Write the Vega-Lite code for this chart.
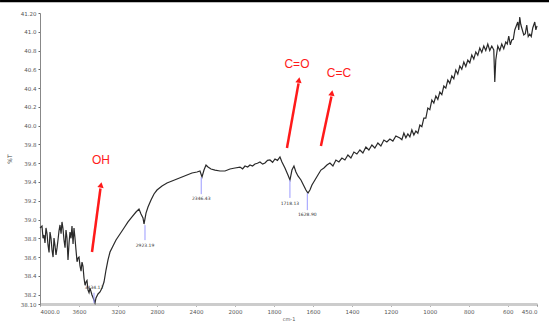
{
  "$schema": "https://vega.github.io/schema/vega-lite/v6.json",
  "width": 497,
  "height": 291,
  "autosize": "none",
  "padding": {"left": 40, "top": 13, "right": 12, "bottom": 25},
  "background": "white",
  "config": {"view": {"stroke": null}, "font": "DejaVu Sans"},
  "encoding": {
    "x": {
      "field": "wn", "type": "quantitative",
      "scale": {"domain": [4000, 2000, 450], "range": [0, 195, 497], "nice": false, "zero": false},
      "axis": {
        "values": [4000, 3600, 3200, 2800, 2400, 2000, 1800, 1600, 1400, 1200, 1000, 800, 600, 450],
        "labelExpr": "datum.value == 4000 || datum.value == 450 ? format(datum.value, '.1f') : format(datum.value, 'd')",
        "title": "cm-1", "titleFontSize": 5, "titleFontWeight": "normal", "titleColor": "#555", "titlePadding": 2,
        "labelFontSize": 5.5, "labelColor": "#555", "labelPadding": 3,
        "domainColor": "#cccccc", "domainWidth": 3, "tickColor": "#666", "tickSize": 2, "grid": false
      }
    },
    "y": {
      "field": "t", "type": "quantitative",
      "scale": {"domain": [38.1, 41.2], "nice": false, "zero": false},
      "axis": {
        "values": [38.1, 38.2, 38.4, 38.6, 38.8, 39.0, 39.2, 39.4, 39.6, 39.8, 40.0, 40.2, 40.4, 40.6, 40.8, 41.0, 41.2],
        "labelExpr": "datum.value == 38.1 || datum.value == 41.2 ? format(datum.value, '.2f') : format(datum.value, '.1f')",
        "title": "%T", "titleFontSize": 6, "titleFontWeight": "normal", "titleColor": "#444", "titlePadding": 8,
        "labelFontSize": 5.5, "labelColor": "#555", "labelPadding": 2,
        "domainColor": "#888", "domainWidth": 1, "tickColor": "#666", "tickSize": 2, "grid": false
      }
    }
  },
  "layer": [
    {
      "data": {"values": [{"wn": 4410, "t": 41.33, "wn2": 388}]},
      "mark": {"type": "rule", "color": "black", "strokeWidth": 3, "clip": false},
      "encoding": {"x2": {"field": "wn2"}}
    },
    {
      "data": {"values": [
        {"wn": 4000, "t": 38.910}, {"wn": 3979.5, "t": 38.931}, {"wn": 3969, "t": 38.80}, {"wn": 3959.0, "t": 38.835}, {"wn": 3948.7, "t": 38.75}, {"wn": 3938.5, "t": 38.910},
        {"wn": 3928, "t": 38.85}, {"wn": 3917.9, "t": 38.729}, {"wn": 3907, "t": 38.65}, {"wn": 3897.4, "t": 38.867}, {"wn": 3887, "t": 38.80}, {"wn": 3876.9, "t": 38.675}, {"wn": 3866, "t": 38.60}, {"wn": 3856.4, "t": 38.803},
        {"wn": 3846, "t": 38.72}, {"wn": 3835.9, "t": 38.622}, {"wn": 3825, "t": 38.70}, {"wn": 3815.4, "t": 38.782}, {"wn": 3805, "t": 38.88}, {"wn": 3794.9, "t": 38.942}, {"wn": 3784, "t": 38.85}, {"wn": 3774.4, "t": 38.974},
        {"wn": 3764, "t": 38.90}, {"wn": 3753.8, "t": 38.782}, {"wn": 3743, "t": 38.70}, {"wn": 3733.3, "t": 38.888}, {"wn": 3723, "t": 38.80}, {"wn": 3712.8, "t": 38.569}, {"wn": 3702, "t": 38.75}, {"wn": 3692.3, "t": 38.867},
        {"wn": 3682, "t": 38.80}, {"wn": 3671.8, "t": 38.931}, {"wn": 3661, "t": 38.74}, {"wn": 3651.3, "t": 38.910}, {"wn": 3641, "t": 38.80}, {"wn": 3630.8, "t": 38.675}, {"wn": 3620, "t": 38.55}, {"wn": 3610.3, "t": 38.590}, {"wn": 3600, "t": 38.60},
        {"wn": 3589.7, "t": 38.505}, {"wn": 3579, "t": 38.45}, {"wn": 3569.2, "t": 38.547}, {"wn": 3559, "t": 38.50}, {"wn": 3548.7, "t": 38.377}, {"wn": 3538, "t": 38.30}, {"wn": 3528.2, "t": 38.334}, {"wn": 3518, "t": 38.35},
        {"wn": 3507.7, "t": 38.249}, {"wn": 3497, "t": 38.22}, {"wn": 3487.2, "t": 38.270}, {"wn": 3466.7, "t": 38.196}, {"wn": 3446.2, "t": 38.143},
        {"wn": 3435.9, "t": 38.111}, {"wn": 3425.6, "t": 38.164}, {"wn": 3405.1, "t": 38.207}, {"wn": 3384.6, "t": 38.228},
        {"wn": 3364.1, "t": 38.270}, {"wn": 3343.6, "t": 38.334}, {"wn": 3323.1, "t": 38.462}, {"wn": 3302.6, "t": 38.569},
        {"wn": 3282.1, "t": 38.654}, {"wn": 3251.3, "t": 38.718}, {"wn": 3220.5, "t": 38.782}, {"wn": 3179.5, "t": 38.846},
        {"wn": 3138.5, "t": 38.910}, {"wn": 3097.4, "t": 38.974}, {"wn": 3056.4, "t": 39.027}, {"wn": 3015.4, "t": 39.080},
        {"wn": 2984.6, "t": 39.112}, {"wn": 2964.1, "t": 39.059}, {"wn": 2943.6, "t": 39.016}, {"wn": 2933.3, "t": 38.952},
        {"wn": 2912.8, "t": 39.069}, {"wn": 2892.3, "t": 39.133}, {"wn": 2861.5, "t": 39.208}, {"wn": 2830.8, "t": 39.272},
        {"wn": 2800.0, "t": 39.314}, {"wn": 2748.7, "t": 39.357}, {"wn": 2697.4, "t": 39.389}, {"wn": 2646.2, "t": 39.410},
        {"wn": 2594.9, "t": 39.432}, {"wn": 2543.6, "t": 39.453}, {"wn": 2492.3, "t": 39.474}, {"wn": 2441.0, "t": 39.496},
        {"wn": 2389.7, "t": 39.506}, {"wn": 2359.0, "t": 39.517}, {"wn": 2338.5, "t": 39.453}, {"wn": 2317.9, "t": 39.527},
        {"wn": 2297.4, "t": 39.581}, {"wn": 2276.9, "t": 39.559}, {"wn": 2246.2, "t": 39.538}, {"wn": 2205.1, "t": 39.527},
        {"wn": 2153.8, "t": 39.517}, {"wn": 2102.6, "t": 39.517}, {"wn": 2051.3, "t": 39.538}, {"wn": 2000.0, "t": 39.549},
        {"wn": 1974.4, "t": 39.559}, {"wn": 1961, "t": 39.54}, {"wn": 1948.7, "t": 39.570}, {"wn": 1935, "t": 39.56}, {"wn": 1923.1, "t": 39.581}, {"wn": 1910, "t": 39.57}, {"wn": 1897.4, "t": 39.591},
        {"wn": 1885, "t": 39.60}, {"wn": 1871.8, "t": 39.613}, {"wn": 1858, "t": 39.59}, {"wn": 1846.2, "t": 39.602}, {"wn": 1833, "t": 39.63}, {"wn": 1820.5, "t": 39.634}, {"wn": 1807, "t": 39.61}, {"wn": 1794.9, "t": 39.645},
        {"wn": 1782, "t": 39.63}, {"wn": 1769.2, "t": 39.666}, {"wn": 1759.0, "t": 39.613}, {"wn": 1743.6, "t": 39.549}, {"wn": 1728.2, "t": 39.474},
        {"wn": 1717.9, "t": 39.421}, {"wn": 1707.7, "t": 39.527}, {"wn": 1697.4, "t": 39.570}, {"wn": 1687.2, "t": 39.506},
        {"wn": 1676.9, "t": 39.464}, {"wn": 1661.5, "t": 39.421}, {"wn": 1646.2, "t": 39.357}, {"wn": 1635.9, "t": 39.314},
        {"wn": 1625.6, "t": 39.282}, {"wn": 1615.4, "t": 39.314}, {"wn": 1605.1, "t": 39.368}, {"wn": 1589.7, "t": 39.421},
        {"wn": 1574.4, "t": 39.474}, {"wn": 1559.0, "t": 39.527}, {"wn": 1543.6, "t": 39.549}, {"wn": 1528.2, "t": 39.581},
        {"wn": 1512.8, "t": 39.602}, {"wn": 1497.4, "t": 39.570}, {"wn": 1482.1, "t": 39.634}, {"wn": 1466.7, "t": 39.613},
        {"wn": 1451.3, "t": 39.655}, {"wn": 1435.9, "t": 39.634}, {"wn": 1420.5, "t": 39.687}, {"wn": 1405.1, "t": 39.655},
        {"wn": 1389.7, "t": 39.719}, {"wn": 1374.4, "t": 39.698}, {"wn": 1359.0, "t": 39.741}, {"wn": 1343.6, "t": 39.709},
        {"wn": 1328.2, "t": 39.773}, {"wn": 1312.8, "t": 39.741}, {"wn": 1297.4, "t": 39.794}, {"wn": 1282.1, "t": 39.762},
        {"wn": 1266.7, "t": 39.815}, {"wn": 1251.3, "t": 39.783}, {"wn": 1235.9, "t": 39.847}, {"wn": 1220.5, "t": 39.826},
        {"wn": 1205.1, "t": 39.858}, {"wn": 1189.7, "t": 39.836}, {"wn": 1174.4, "t": 39.890}, {"wn": 1153.8, "t": 39.868},
        {"wn": 1143.5, "t": 39.85}, {"wn": 1133.3, "t": 39.922}, {"wn": 1123, "t": 39.87}, {"wn": 1112.8, "t": 39.911}, {"wn": 1102.5, "t": 39.88}, {"wn": 1092.3, "t": 39.954}, {"wn": 1082, "t": 39.90}, {"wn": 1071.8, "t": 39.943},
        {"wn": 1061.5, "t": 39.92}, {"wn": 1051.3, "t": 40.007}, {"wn": 1041, "t": 39.99}, {"wn": 1030.8, "t": 40.081}, {"wn": 1020.5, "t": 40.08}, {"wn": 1010.3, "t": 40.188}, {"wn": 1000, "t": 40.17}, {"wn": 989.7, "t": 40.273},
        {"wn": 979.5, "t": 40.24}, {"wn": 969.2, "t": 40.316}, {"wn": 959, "t": 40.28}, {"wn": 948.7, "t": 40.358}, {"wn": 938.5, "t": 40.33}, {"wn": 928.2, "t": 40.422}, {"wn": 918, "t": 40.40}, {"wn": 907.7, "t": 40.486},
        {"wn": 897.5, "t": 40.45}, {"wn": 887.2, "t": 40.529}, {"wn": 877, "t": 40.50}, {"wn": 866.7, "t": 40.593}, {"wn": 856.5, "t": 40.55}, {"wn": 846.2, "t": 40.635}, {"wn": 836, "t": 40.60}, {"wn": 825.6, "t": 40.678},
        {"wn": 815.4, "t": 40.63}, {"wn": 805.1, "t": 40.699}, {"wn": 794.9, "t": 40.67}, {"wn": 784.6, "t": 40.753}, {"wn": 774.4, "t": 40.71}, {"wn": 764.1, "t": 40.785}, {"wn": 753.9, "t": 40.75}, {"wn": 743.6, "t": 40.827},
        {"wn": 733.4, "t": 40.78}, {"wn": 723.1, "t": 40.848}, {"wn": 712.9, "t": 40.80}, {"wn": 702.6, "t": 40.870}, {"wn": 692.4, "t": 40.80}, {"wn": 682.1, "t": 40.848}, {"wn": 671.8, "t": 40.806},
        {"wn": 666.7, "t": 40.465}, {"wn": 661.5, "t": 40.699}, {"wn": 651.3, "t": 40.848}, {"wn": 641, "t": 40.80}, {"wn": 630.8, "t": 40.870},
        {"wn": 620.6, "t": 40.82}, {"wn": 610.3, "t": 40.891}, {"wn": 602.6, "t": 40.87}, {"wn": 594.9, "t": 40.955}, {"wn": 587, "t": 40.86}, {"wn": 579.5, "t": 40.912}, {"wn": 571.8, "t": 40.92}, {"wn": 564.1, "t": 41.019},
        {"wn": 548.7, "t": 41.104}, {"wn": 543.6, "t": 41.02}, {"wn": 538.5, "t": 41.157}, {"wn": 533.4, "t": 41.08}, {"wn": 528.2, "t": 41.040}, {"wn": 517.9, "t": 40.966},
        {"wn": 510, "t": 40.98}, {"wn": 502.6, "t": 41.072}, {"wn": 495, "t": 40.95}, {"wn": 487.2, "t": 40.976}, {"wn": 479.5, "t": 40.95}, {"wn": 471.8, "t": 41.040}, {"wn": 461.5, "t": 41.104},
        {"wn": 455.7, "t": 41.02}, {"wn": 450.0, "t": 41.062}
      ]},
      "mark": {"type": "line", "color": "#2a2a2a", "strokeWidth": 1.2},
      "encoding": {"order": {"field": "wn", "sort": "descending"}}
    },
    {
      "data": {"values": [
        {"wn": 3446, "t": 38.22, "t2": 38.11, "label": "3434.12", "tl": 38.27},
        {"wn": 2923.2, "t": 38.94, "t2": 38.78, "label": "2923.19", "tl": 38.72},
        {"wn": 2346.4, "t": 39.45, "t2": 39.27, "label": "2346.43", "tl": 39.22},
        {"wn": 1718.1, "t": 39.42, "t2": 39.23, "label": "1718.13", "tl": 39.17},
        {"wn": 1628.9, "t": 39.28, "t2": 39.10, "label": "1628.90", "tl": 39.05}
      ]},
      "layer": [
        {"mark": {"type": "rule", "color": "#9a9aff", "strokeWidth": 1}, "encoding": {"y2": {"field": "t2"}}},
        {"mark": {"type": "text", "fontSize": 4.5, "color": "#333"}, "encoding": {"y": {"field": "tl", "type": "quantitative"}, "text": {"field": "label"}}}
      ]
    },
    {
      "data": {"values": [
        {"wn": 3466.7, "t": 38.654, "wn2": 3380.0, "t2": 39.33},
        {"wn": 1733.3, "t": 39.762, "wn2": 1674.0, "t2": 40.45},
        {"wn": 1559.0, "t": 39.783, "wn2": 1505.0, "t2": 40.31}
      ]},
      "mark": {"type": "rule", "color": "#ff1a1a", "strokeWidth": 2.5},
      "encoding": {"x2": {"field": "wn2"}, "y2": {"field": "t2"}}
    },
    {
      "data": {"values": [
        {"wn": 3374.4, "t": 39.368},
        {"wn": 1671.8, "t": 40.486},
        {"wn": 1502.6, "t": 40.348}
      ]},
      "mark": {"type": "point", "shape": "triangle-up", "filled": true, "color": "#ff1a1a", "opacity": 1, "size": 40, "angle": 10},
      "encoding": {}
    },
    {
      "data": {"values": [
        {"wn": 3374, "t": 39.634, "label": "OH"},
        {"wn": 1682, "t": 40.657, "label": "C=O"},
        {"wn": 1466.7, "t": 40.561, "label": "C=C"}
      ]},
      "mark": {"type": "text", "fontSize": 12, "color": "#ff1a1a", "font": "Liberation Sans"},
      "encoding": {"text": {"field": "label"}}
    }
  ]
}
